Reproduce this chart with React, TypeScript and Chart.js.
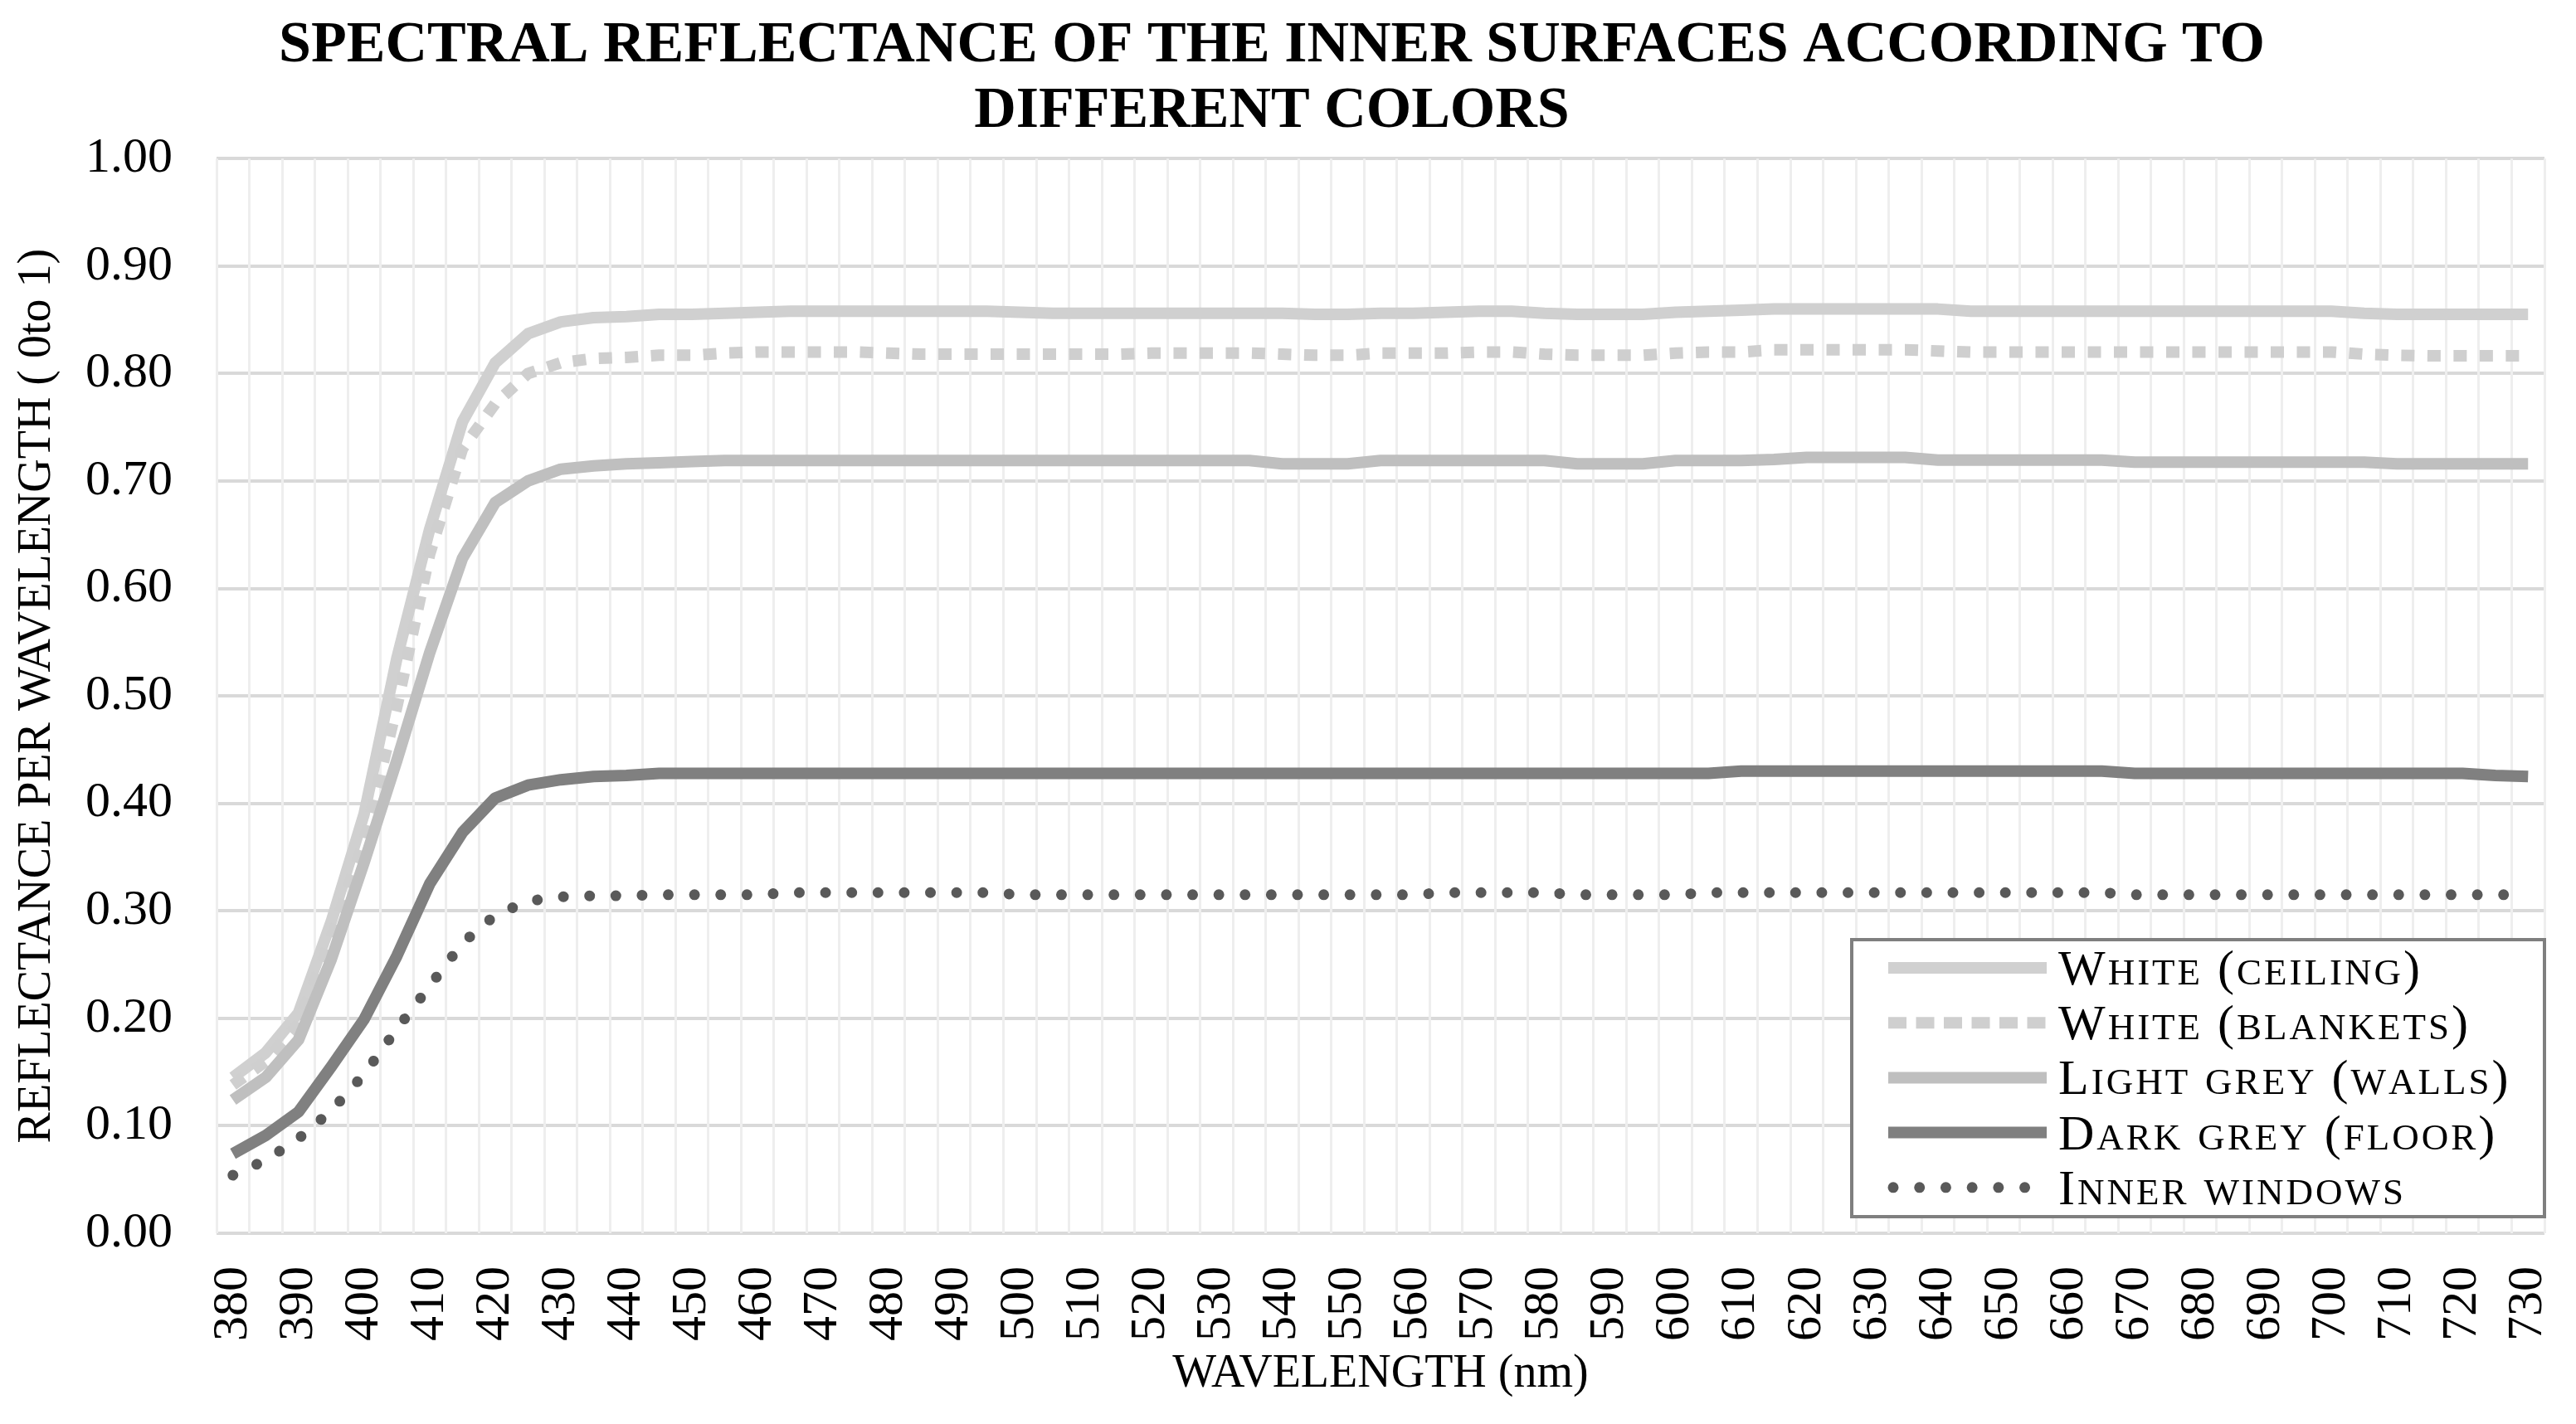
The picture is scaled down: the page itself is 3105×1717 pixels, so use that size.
import React, { useEffect, useRef } from 'react';
import { Chart, registerables } from 'chart.js';

Chart.register(...registerables);

const FONT = "'Liberation Serif', 'Times New Roman', serif";

const titleLines = ['SPECTRAL REFLECTANCE OF THE INNER SURFACES ACCORDING TO', 'DIFFERENT COLORS'];
const xAxisTitle = 'WAVELENGTH (nm)';
const yAxisTitle = 'REFLECTANCE PER WAVELENGTH ( 0to 1)';

const wavelengths = [
  380, 385, 390, 395, 400, 405, 410, 415, 420, 425,
  430, 435, 440, 445, 450, 455, 460, 465, 470, 475,
  480, 485, 490, 495, 500, 505, 510, 515, 520, 525,
  530, 535, 540, 545, 550, 555, 560, 565, 570, 575,
  580, 585, 590, 595, 600, 605, 610, 615, 620, 625,
  630, 635, 640, 645, 650, 655, 660, 665, 670, 675,
  680, 685, 690, 695, 700, 705, 710, 715, 720, 725,
  730,
];

const seriesLabels = ['White (ceiling)', 'White (blankets)', 'Light grey (walls)', 'Dark grey (floor)', 'Inner windows'];

const whiteCeiling = [
  0.145, 0.168, 0.205, 0.290, 0.390, 0.535, 0.655, 0.755, 0.810, 0.837,
  0.848, 0.852, 0.853, 0.855, 0.855, 0.856, 0.857, 0.858, 0.858, 0.858,
  0.858, 0.858, 0.858, 0.858, 0.857, 0.856, 0.856, 0.856, 0.856, 0.856,
  0.856, 0.856, 0.856, 0.855, 0.855, 0.856, 0.856, 0.857, 0.858, 0.858,
  0.856, 0.855, 0.855, 0.855, 0.857, 0.858, 0.859, 0.860, 0.860, 0.860,
  0.860, 0.860, 0.860, 0.858, 0.858, 0.858, 0.858, 0.858, 0.858, 0.858,
  0.858, 0.858, 0.858, 0.858, 0.858, 0.856, 0.855, 0.855, 0.855, 0.855,
  0.855,
];

const whiteBlankets = [
  0.138, 0.160, 0.195, 0.275, 0.365, 0.490, 0.632, 0.730, 0.772, 0.800,
  0.810, 0.814, 0.815, 0.817, 0.817, 0.819, 0.820, 0.820, 0.820, 0.820,
  0.819, 0.818, 0.818, 0.818, 0.818, 0.818, 0.818, 0.818, 0.819, 0.819,
  0.819, 0.819, 0.818, 0.817, 0.817, 0.819, 0.819, 0.819, 0.820, 0.820,
  0.818, 0.817, 0.817, 0.817, 0.819, 0.820, 0.820, 0.822, 0.822, 0.822,
  0.822, 0.822, 0.821, 0.820, 0.820, 0.820, 0.820, 0.820, 0.820, 0.820,
  0.820, 0.820, 0.820, 0.820, 0.820, 0.818, 0.817, 0.8165, 0.8165, 0.8165,
  0.8165,
];

const lightGreyWalls = [
  0.124, 0.145, 0.180, 0.255, 0.345, 0.440, 0.540, 0.628, 0.680, 0.700,
  0.711, 0.714, 0.716, 0.717, 0.718, 0.719, 0.719, 0.719, 0.719, 0.719,
  0.719, 0.719, 0.719, 0.719, 0.719, 0.719, 0.719, 0.719, 0.719, 0.719,
  0.719, 0.719, 0.716, 0.716, 0.716, 0.719, 0.719, 0.719, 0.719, 0.719,
  0.719, 0.716, 0.716, 0.716, 0.719, 0.719, 0.719, 0.720, 0.722, 0.722,
  0.722, 0.722, 0.7195, 0.7195, 0.7195, 0.7195, 0.7195, 0.7195, 0.7175, 0.7175,
  0.7175, 0.7175, 0.7175, 0.7175, 0.7175, 0.7175, 0.716, 0.716, 0.716, 0.716,
  0.716,
];

const darkGreyFloor = [
  0.074, 0.091, 0.113, 0.155, 0.199, 0.258, 0.325, 0.373, 0.405, 0.417,
  0.422, 0.425, 0.426, 0.428, 0.428, 0.428, 0.428, 0.428, 0.428, 0.428,
  0.428, 0.428, 0.428, 0.428, 0.428, 0.428, 0.428, 0.428, 0.428, 0.428,
  0.428, 0.428, 0.428, 0.428, 0.428, 0.428, 0.428, 0.428, 0.428, 0.428,
  0.428, 0.428, 0.428, 0.428, 0.428, 0.428, 0.430, 0.430, 0.430, 0.430,
  0.430, 0.430, 0.430, 0.430, 0.430, 0.430, 0.430, 0.430, 0.428, 0.428,
  0.428, 0.428, 0.428, 0.428, 0.428, 0.428, 0.428, 0.428, 0.428, 0.426,
  0.425,
];

const innerWindows = [
  0.054, 0.068, 0.088, 0.114, 0.148, 0.190, 0.230, 0.270, 0.296, 0.309,
  0.313, 0.314, 0.314, 0.315, 0.315, 0.315, 0.315, 0.317, 0.317, 0.317,
  0.317, 0.317, 0.317, 0.317, 0.315, 0.315, 0.315, 0.315, 0.315, 0.315,
  0.315, 0.315, 0.315, 0.315, 0.315, 0.315, 0.315, 0.317, 0.317, 0.317,
  0.317, 0.315, 0.315, 0.315, 0.315, 0.317, 0.317, 0.317, 0.317, 0.317,
  0.317, 0.317, 0.317, 0.317, 0.317, 0.317, 0.317, 0.317, 0.315, 0.315,
  0.315, 0.315, 0.315, 0.315, 0.315, 0.315, 0.315, 0.315, 0.315, 0.315,
  0.315,
];

const isMajor = (v: number) => Math.round(v * 100) % 10 === 0;

function drawSmallCaps(ctx: CanvasRenderingContext2D, text: string, x: number, y: number, size: number, spacing: number) {
  let cx = x;
  for (const ch of text) {
    const lower = ch !== ch.toUpperCase();
    const s = lower ? size * 0.75 : size;
    ctx.font = `${s}px ${FONT}`;
    const g = lower ? ch.toUpperCase() : ch;
    ctx.fillText(g, cx, y);
    cx += ctx.measureText(g).width + spacing;
  }
}

const insideLegend = {
  id: 'insideLegend',
  afterDatasetsDraw(chart: any) {
    const { ctx, chartArea } = chart;
    const boxW = 835;
    const boxH = 334;
    const right = chartArea.right;
    const bottom = chartArea.bottom - 20;
    const left = right - boxW;
    const top = bottom - boxH;
    ctx.save();
    ctx.fillStyle = '#ffffff';
    ctx.fillRect(left, top, boxW, boxH);
    ctx.strokeStyle = '#7f7f7f';
    ctx.lineWidth = 4;
    ctx.strokeRect(left, top, boxW, boxH);
    const datasets = chart.data.datasets;
    datasets.forEach((ds: any, i: number) => {
      const cy = top + 34 + i * 66.2;
      ctx.save();
      ctx.strokeStyle = ds.borderColor;
      ctx.lineWidth = ds.borderWidth;
      ctx.lineCap = ds.borderCapStyle || 'butt';
      ctx.setLineDash(ds.legendDash || []);
      ctx.beginPath();
      if (ds.legendDots) {
        ctx.moveTo(left + 50, cy);
        ctx.lineTo(left + 230, cy);
      } else {
        ctx.moveTo(left + 44, cy);
        ctx.lineTo(left + 235, cy);
      }
      ctx.stroke();
      ctx.restore();
      ctx.fillStyle = '#000000';
      ctx.textBaseline = 'alphabetic';
      ctx.textAlign = 'left';
      drawSmallCaps(ctx, ds.label, left + 249, cy + 20, 60, 3);
    });
    ctx.restore();
  },
};

export default function App() {
  const ref = useRef<HTMLCanvasElement | null>(null);

  useEffect(() => {
    if (!ref.current) return;
    const chart = new Chart(ref.current, {
      type: 'line',
      data: {
        labels: wavelengths.map(String),
        datasets: [
          {
            label: seriesLabels[0],
            data: whiteCeiling,
            borderColor: '#d0d0d0',
            borderWidth: 14,
            pointRadius: 0,
            tension: 0,
            order: 5,
            borderJoinStyle: 'round',
          } as any,
          {
            label: seriesLabels[1],
            data: whiteBlankets,
            borderColor: '#cfcfcf',
            borderWidth: 14,
            borderDash: [16, 15.5],
            legendDash: [22, 11.5],
            pointRadius: 0,
            tension: 0,
            order: 4,
          },
          {
            label: seriesLabels[2],
            data: lightGreyWalls,
            borderColor: '#bfbfbf',
            borderWidth: 14,
            pointRadius: 0,
            tension: 0,
            order: 3,
            borderJoinStyle: 'round',
          },
          {
            label: seriesLabels[3],
            data: darkGreyFloor,
            borderColor: '#808080',
            borderWidth: 14,
            pointRadius: 0,
            tension: 0,
            order: 2,
            borderJoinStyle: 'round',
          },
          {
            label: seriesLabels[4],
            data: innerWindows,
            borderColor: '#595959',
            borderWidth: 13,
            borderDash: [0.01, 31.6],
            legendDash: [0.01, 31.7],
            legendDots: true,
            borderCapStyle: 'round',
            pointRadius: 0,
            tension: 0,
            order: 1,
          },
        ] as any,
      },
      options: {
        animation: false,
        responsive: false,
        devicePixelRatio: 1,
        layout: { padding: { top: 0, right: 4, bottom: 0, left: 0 } },
        plugins: {
          legend: { display: false },
          tooltip: { enabled: false },
          title: {
            display: true,
            text: titleLines,
            color: '#000000',
            font: { family: FONT, size: 70, weight: 'bold', lineHeight: 1.13 },
            padding: { top: 8, bottom: 17 },
          },
        },
        scales: {
          y: {
            min: 0,
            max: 1,
            border: { display: false },
            afterFit: (s: any) => {
              s.width = 262;
            },
            grid: {
              drawTicks: false,
              color: (c: any) => (isMajor(c.tick.value) ? '#d9d9d9' : '#eeeeee'),
              lineWidth: (c: any) => (isMajor(c.tick.value) ? 4 : 3),
            },
            ticks: {
              stepSize: 0.05,
              padding: 53,
              color: '#000000',
              font: { family: FONT, size: 60 },
              callback: (v: any) => (isMajor(Number(v)) ? Number(v).toFixed(2) : ''),
            },
            title: {
              display: true,
              text: yAxisTitle,
              color: '#000000',
              font: { family: FONT, size: 56, lineHeight: 1.2 },
              padding: { top: 13, bottom: 24 },
            },
          },
          x: {
            type: 'category',
            offset: true,
            border: { display: false },
            afterFit: (s: any) => {
              s.height = 230;
              s.paddingLeft = 0;
              s.paddingRight = 0;
            },
            grid: {
              offset: true,
              drawTicks: false,
              color: '#eeeeee',
              lineWidth: 3,
            },
            ticks: {
              autoSkip: false,
              minRotation: 90,
              maxRotation: 90,
              padding: 40,
              color: '#000000',
              font: { family: FONT, size: 60 },
              callback: (_v: any, i: number) => (wavelengths[i] % 10 === 0 ? String(wavelengths[i]) : ''),
            },
            title: {
              display: true,
              text: xAxisTitle,
              color: '#000000',
              font: { family: FONT, size: 56, lineHeight: 1.2 },
              padding: { top: 5, bottom: 26 },
            },
          },
        },
      } as any,
      plugins: [insideLegend],
    });
    return () => chart.destroy();
  }, []);

  return (
    <div style={{ width: 3072, height: 1709, marginLeft: -9 }}>
      <canvas ref={ref} width={3072} height={1709} style={{ display: 'block', width: 3072, height: 1709 }} />
    </div>
  );
}
